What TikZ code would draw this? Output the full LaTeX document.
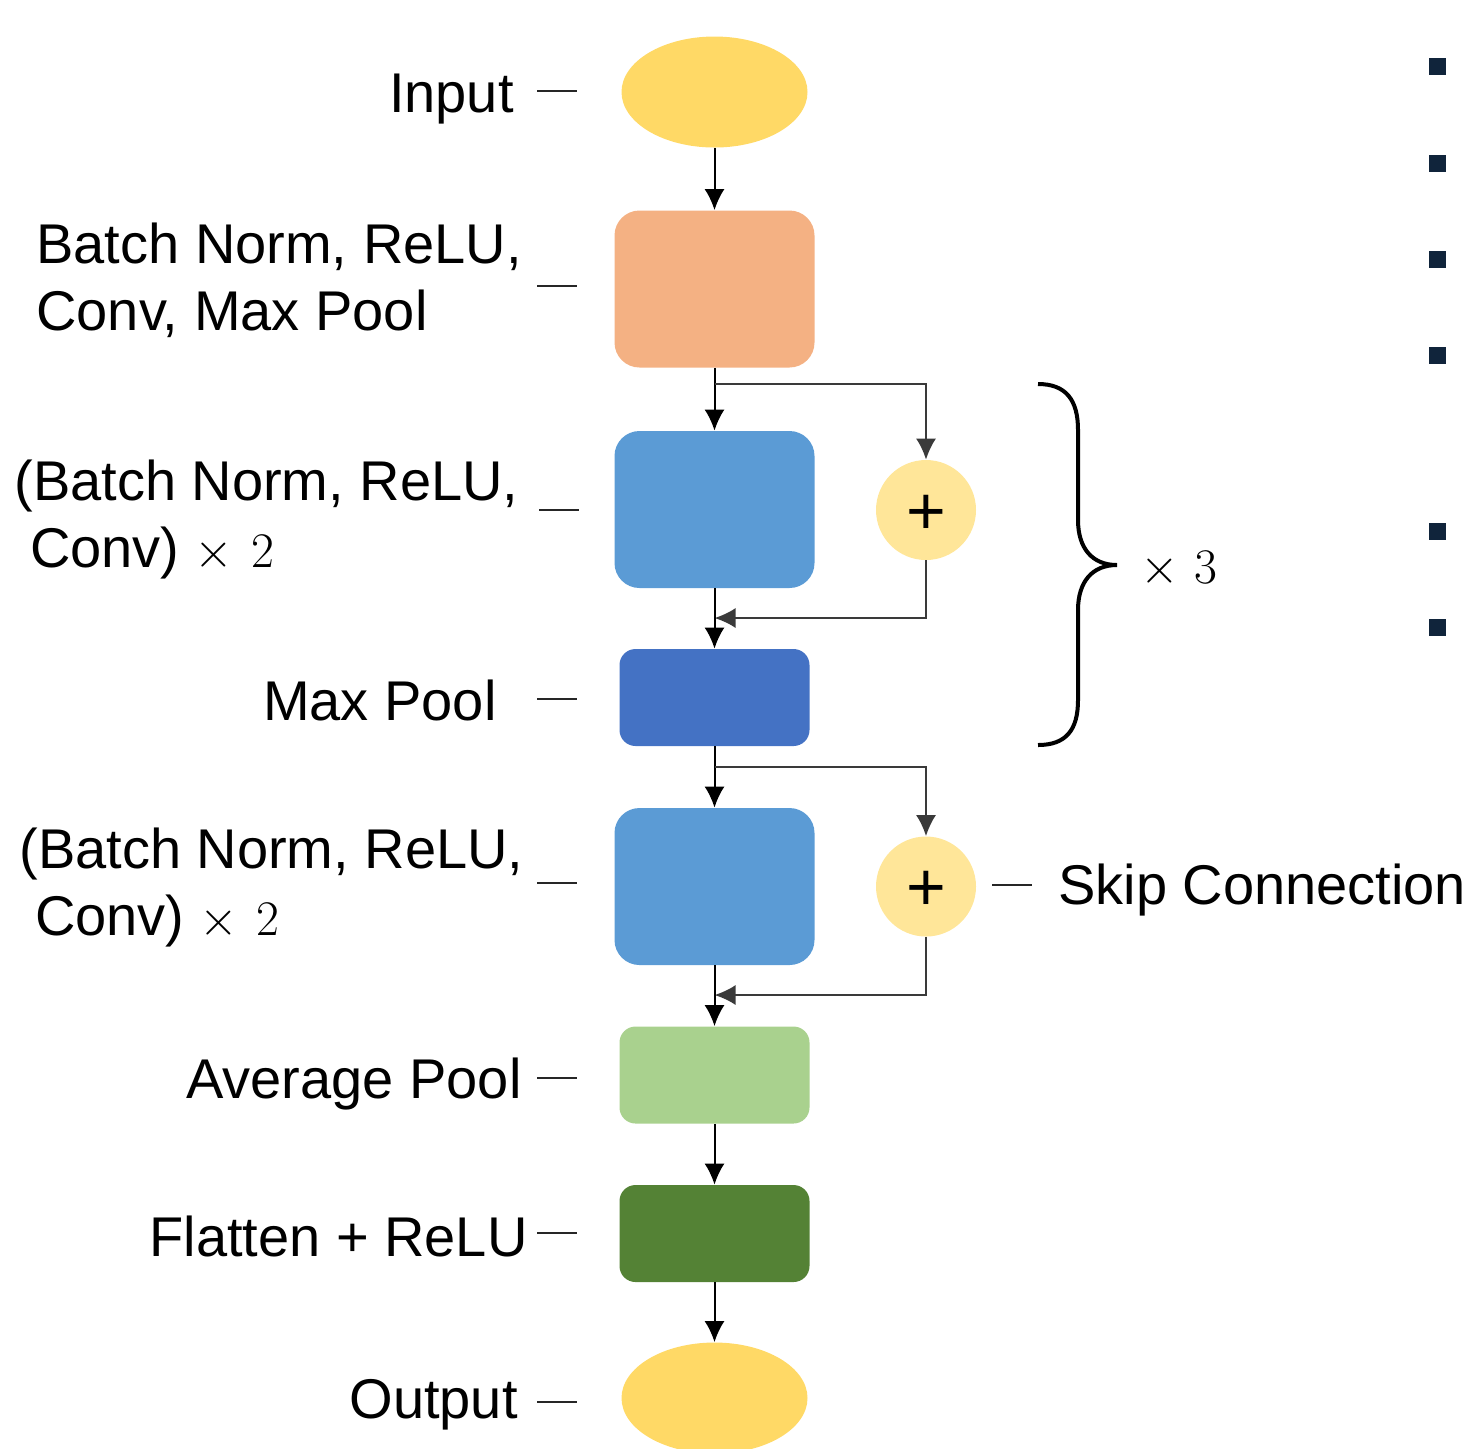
\documentclass[tikz,border=0pt]{standalone}
\usepackage{fontspec}
\setmainfont{Liberation Sans}
\usetikzlibrary{shapes.geometric,arrows.meta}
\definecolor{cEll}{HTML}{FFD966}
\definecolor{cOra}{HTML}{F4B183}
\definecolor{cBlu}{HTML}{5B9BD5}
\definecolor{cDBl}{HTML}{4472C4}
\definecolor{cCir}{HTML}{FFE699}
\definecolor{cLGr}{HTML}{A9D18E}
\definecolor{cDGr}{HTML}{548235}
\definecolor{cSq}{HTML}{10243B}
\definecolor{cSkip}{HTML}{3A3A3A}
\newcommand{\timestwo}{{\fontsize{32}{33.5}\selectfont$\times$~$2$}}
\newcommand{\plussign}{\raisebox{-12pt}[0pt][0pt]{+}}
\tikzset{
  bigbox/.style={rectangle, rounded corners=12.5pt, minimum width=100pt, minimum height=78.5pt, inner sep=0pt, draw=none},
  smallbox/.style={rectangle, rounded corners=8pt, minimum width=95pt, minimum height=48.5pt, inner sep=0pt, draw=none},
  ell/.style={ellipse, fill=cEll, minimum width=93pt, minimum height=55.5pt, inner sep=0pt, draw=none},
  addnode/.style={circle, fill=cCir, minimum size=50pt, inner sep=0pt, draw=none, font=\fontsize{34}{34}\selectfont},
  lbl/.style={inner sep=0pt, font=\fontsize{28}{33.5}\selectfont, align=left},
  arr/.style={-{Latex[length=10.5pt,width=10pt]}, line width=1pt, black},
  plain/.style={line width=1pt, black},
  skiparr/.style={-{Latex[length=10.5pt,width=10pt]}, line width=1pt, cSkip},
  tick/.style={line width=1pt, black!85},
  sq/.style={rectangle, fill=cSq, minimum size=8.5pt, inner sep=0pt, draw=none},
}
\begin{document}
\begin{tikzpicture}[x=0.5pt,y=-0.5pt]
\useasboundingbox (0,0) rectangle (1475,1448);

% main column
\node[ell] (in) at (714.5,92) {};
\node[bigbox, fill=cOra] (b1) at (714.5,289) {};
\node[bigbox, fill=cBlu] (b2) at (714.5,509.5) {};
\node[smallbox, fill=cDBl] (mp) at (714.5,697.5) {};
\node[bigbox, fill=cBlu] (b3) at (714.5,886.5) {};
\node[smallbox, fill=cLGr] (ap) at (714.5,1075) {};
\node[smallbox, fill=cDGr] (fl) at (714.5,1233.5) {};
\node[ell] (out) at (714.5,1398) {};

% adders
\node[addnode] (p1) at (926,510) {\plussign};
\node[addnode] (p2) at (926,886.5) {\plussign};

% branch / join coordinates
\coordinate (br1) at (714.5,384);
\coordinate (j1) at (714.5,618);
\coordinate (br2) at (714.5,767);
\coordinate (j2) at (714.5,995);

% connectors
\draw[arr] (in.south) -- (b1.north);
\draw[plain] (b1.south) -- (br1);
\draw[arr] (br1) -- (b2.north);
\draw[skiparr] (br1) -| (p1.north);
\draw[skiparr] (p1.south) |- (j1);
\draw[arr] (b2.south) -- (mp.north);
\draw[plain] (mp.south) -- (br2);
\draw[arr] (br2) -- (b3.north);
\draw[skiparr] (br2) -| (p2.north);
\draw[skiparr] (p2.south) |- (j2);
\draw[arr] (b3.south) -- (ap.north);
\draw[arr] (ap.south) -- (fl.north);
\draw[arr] (fl.south) -- (out.north);

% labels
\node[lbl, anchor=base east] (tIn) at (514,112) {Input};
\node[lbl, anchor=base west] (tB1) at (36,330) {Batch Norm, ReLU,\\Conv, Max Pool};
\node[lbl, anchor=base west] (tB2) at (14,567) {(Batch Norm, ReLU,\\\hspace*{7.8pt}Conv)~\timestwo};
\node[lbl, anchor=base east] (tMp) at (497,720) {Max Pool};
\node[lbl, anchor=base west] (tB3) at (19,935) {(Batch Norm, ReLU,\\\hspace*{7.8pt}Conv)~\timestwo};
\node[lbl, anchor=base east] (tAp) at (522,1098) {Average Pool};
\node[lbl, anchor=base east] (tFl) at (528,1256) {Flatten + ReLU};
\node[lbl, anchor=base east] (tOut) at (518,1418) {Output};
\node[lbl, anchor=base west] (tSk) at (1058,904) {Skip Connection};
\node[lbl, anchor=base west] (tX3) at (1140,583) {$\times$~$3$};

% label ticks
\coordinate (d1a) at (537,91);   \coordinate (d1b) at (577,91);
\coordinate (d2a) at (537,286);  \coordinate (d2b) at (577,286);
\coordinate (d3a) at (539,510);  \coordinate (d3b) at (579,510);
\coordinate (d4a) at (537,699);  \coordinate (d4b) at (577,699);
\coordinate (d5a) at (537,883);  \coordinate (d5b) at (577,883);
\coordinate (d6a) at (537,1078); \coordinate (d6b) at (577,1078);
\coordinate (d7a) at (537,1233); \coordinate (d7b) at (577,1233);
\coordinate (d8a) at (537,1402); \coordinate (d8b) at (577,1402);
\coordinate (d9a) at (992,885);  \coordinate (d9b) at (1032,885);
\foreach \i in {1,...,9} \draw[tick] (d\i a) -- (d\i b);

% brace
\draw[line width=2pt, black]
  (1038,384) .. controls (1066,384) and (1078,400) .. (1078,430)
  -- (1078,520) .. controls (1078,548) and (1092,565) .. (1117,565)
  .. controls (1092,565) and (1078,582) .. (1078,610)
  -- (1078,700) .. controls (1078,730) and (1066,745) .. (1038,745);

% squares on the right
\node[sq] (s1) at (1437,66) {};
\node[sq] (s2) at (1437,163) {};
\node[sq] (s3) at (1437,259) {};
\node[sq] (s4) at (1437,355) {};
\node[sq] (s5) at (1437,531) {};
\node[sq] (s6) at (1437,627) {};
\end{tikzpicture}
\end{document}
